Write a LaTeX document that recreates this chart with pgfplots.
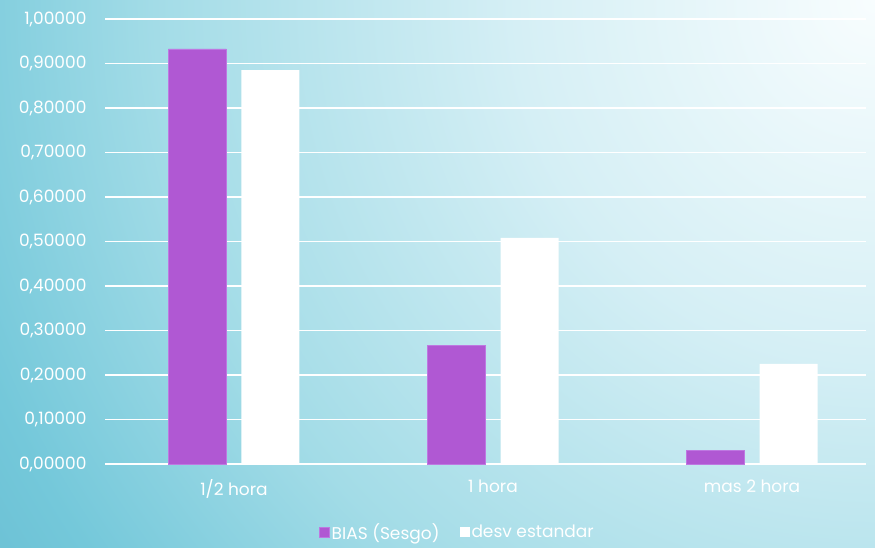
\documentclass[border=0pt]{standalone}
\usepackage{pgfplots}
\pgfplotsset{compat=1.18}
\usepackage{fontspec}
\setmainfont{Poppins}
\definecolor{bgA}{HTML}{F8FDFE}
\definecolor{bgB}{HTML}{D5EFF5}
\definecolor{bgC}{HTML}{A3DCE7}
\definecolor{bgD}{HTML}{74C8DA}
\definecolor{bgE}{HTML}{5AB2CA}
\definecolor{barP}{RGB}{176,88,211}
\definecolor{barPe}{RGB}{190,120,225}
\pgfdeclareradialshading{bgshade}{\pgfpoint{0bp}{0bp}}{color(0bp)=(bgA); color(7.5bp)=(bgB); color(15bp)=(bgC); color(20bp)=(bgD); color(26bp)=(bgE); color(50bp)=(bgE)}
\begin{document}
\begin{tikzpicture}[x=1pt,y=1pt]
\begin{scope}
\clip (0,0) rectangle (875,547);
\shade[shading=bgshade] (875,547) circle (1200pt);
\end{scope}
\useasboundingbox (0,0) rectangle (875,547);
\begin{axis}[
  at={(105pt,83pt)}, anchor=south west,
  scale only axis,
  width=761pt, height=445pt,
  xmin=-0.498, xmax=2.44,
  ymin=0, ymax=1.0,
  ytick={0,0.1,...,1.0},
  xtick={0,1,2},
  xticklabels={1/2 hora,1 hora,mas 2 hora},
  ybar=15pt, bar width=58pt,
  axis lines=left,
  axis line style={-},
  y axis line style={draw=none},
  x axis line style={white, line width=2pt},
  ymajorgrids, grid style={white, line width=1.5pt},
  major tick length=0pt,
  tick label style={white, font=\fontsize{17}{20}\selectfont},
  yticklabel={\pgfmathprintnumber[fixed, fixed zerofill, precision=5, use comma, assume math mode=true]{\tick}},
  xticklabel style={yshift=-12pt},
  yticklabel style={xshift=-15pt},
  legend style={at={(0.5,0)}, anchor=center, yshift=-68pt, xshift=-28pt, draw=none, fill=none, text=white, font=\fontsize{17}{20}\selectfont, /tikz/every even column/.append style={column sep=18pt}},
  legend columns=2,
  legend image code/.code={\fill[#1] (0pt,-5pt) rectangle (10pt,5pt);},
  clip=false,
]
\addplot[fill=barP, draw=barPe, line width=0.5pt] coordinates {(0,0.9326) (1,0.267) (2,0.031)};
\addplot[fill=white, draw=none] coordinates {(0,0.885) (1,0.508) (2,0.225)};
\legend{BIAS (Sesgo), desv estandar}
\end{axis}
\end{tikzpicture}
\end{document}
